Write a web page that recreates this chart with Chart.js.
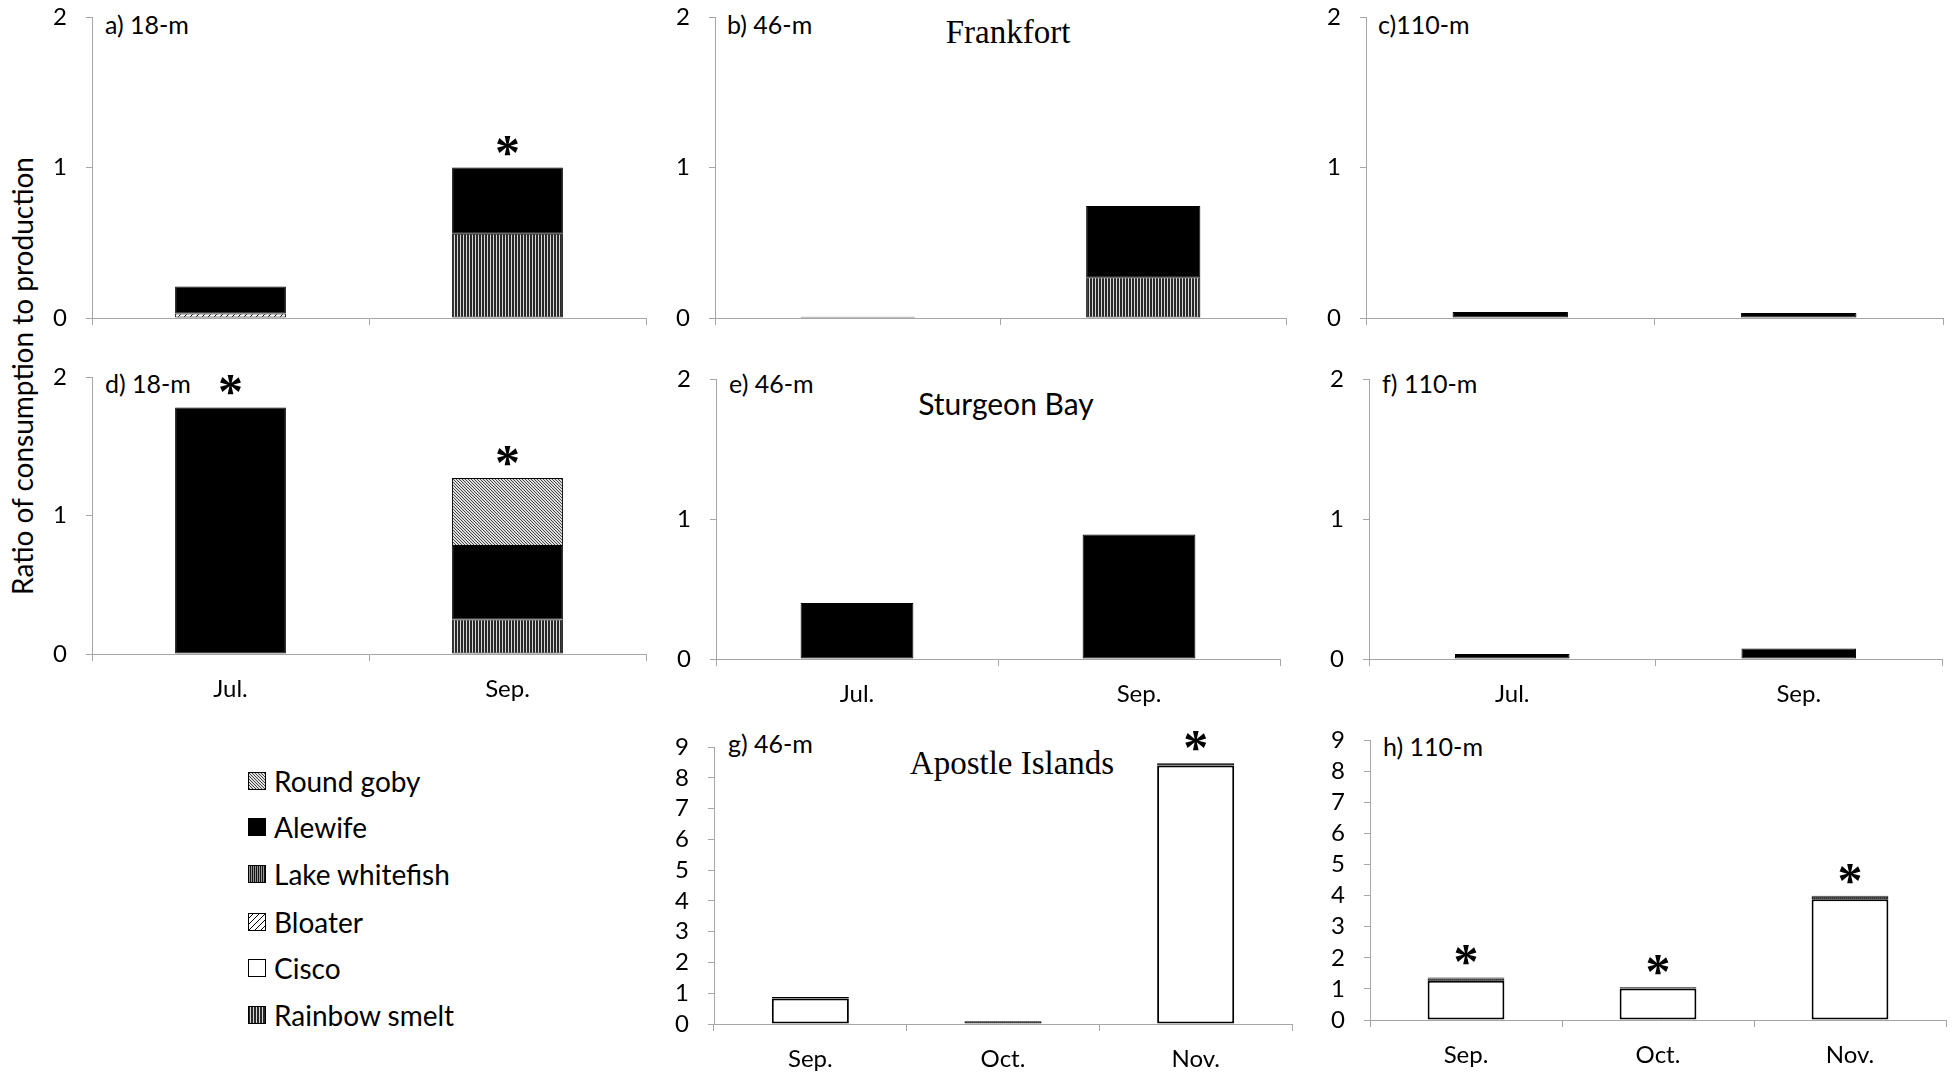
<!DOCTYPE html>
<html>
<head>
<meta charset="utf-8">
<script src="https://cdn.jsdelivr.net/npm/chart.js@4.4.1/dist/chart.umd.min.js"></script>
<style>
  html, body { margin: 0; padding: 0; background: #fff; }
  #wrap { position: relative; width: 1957px; height: 1073px; overflow: hidden; background: #fff; font-family: Lato, "Open Sans", sans-serif; color: #000; }
  #wrap > canvas { position: absolute; }
  .plabel { position: absolute; font-size: 25px; line-height: 1; white-space: nowrap; transform: translateY(-50%); }
  .site { position: absolute; line-height: 1; white-space: nowrap; transform: translate(-50%, -50%); }
  .serif { font-family: "Liberation Serif", "Times New Roman", serif; font-size: 33px; }
  .sans { font-family: Lato, sans-serif; font-size: 30px; }
  #ytitle { position: absolute; left: 22px; top: 376px; font-size: 28px; white-space: nowrap; line-height: 1; transform: translate(-50%, -50%) rotate(-90deg); }
  .leg { position: absolute; left: 248px; height: 28px; display: flex; align-items: center; transform: translateY(-50%); font-size: 28px; white-space: nowrap; }
  .leg canvas { width: 18px; height: 18px; margin-right: 8px; flex: none; }
</style>
</head>
<body>
<div id="wrap">
  <div id="ytitle">Ratio of consumption to production</div>

  <div class="plabel" style="left:105px;top:24px;">a) 18-m</div>
  <div class="plabel" style="left:727px;top:24px;">b) 46-m</div>
  <div class="plabel" style="left:1378px;top:24px;">c)110-m</div>
  <div class="plabel" style="left:105px;top:383px;">d) 18-m</div>
  <div class="plabel" style="left:729px;top:383px;">e) 46-m</div>
  <div class="plabel" style="left:1382px;top:383px;">f) 110-m</div>
  <div class="plabel" style="left:728px;top:743px;">g) 46-m</div>
  <div class="plabel" style="left:1383px;top:746px;">h) 110-m</div>

  <div class="site serif" style="left:1008px;top:32px;">Frankfort</div>
  <div class="site sans" style="left:1006px;top:403px;">Sturgeon Bay</div>
  <div class="site serif" style="left:1012px;top:763px;">Apostle Islands</div>

  <div id="legend"></div>
</div>

<script>
// ---------------- DATA ----------------
const frankfortMonths = ['Jul.', 'Sep.'];
const sturgeonMonths  = ['Jul.', 'Sep.'];
const apostleMonths   = ['Sep.', 'Oct.', 'Nov.'];

// stacking order, bottom -> top
const speciesStack  = ['Rainbow smelt', 'Cisco', 'Bloater', 'Lake whitefish', 'Alewife', 'Round goby'];
// legend order, top -> bottom
const legendSpecies = ['Round goby', 'Alewife', 'Lake whitefish', 'Bloater', 'Cisco', 'Rainbow smelt'];

const ticksSmall = [0, 1, 2];
const ticksLarge = [0, 1, 2, 3, 4, 5, 6, 7, 8, 9];

// a) Frankfort 18-m
const aRainbowSmelt = [0.00, 0.56];
const aBloater      = [0.03, 0.00];
const aAlewife      = [0.18, 0.44];
const aStar         = [0, 1];

// b) Frankfort 46-m
const bRainbowSmelt = [0.00, 0.27];
const bAlewife      = [0.008, 0.475];
const bStar         = [0, 0];

// c) Frankfort 110-m
const cAlewife      = [0.04, 0.033];
const cStar         = [0, 0];

// d) Sturgeon Bay 18-m
const dRainbowSmelt = [0.00, 0.25];
const dAlewife      = [1.78, 0.53];
const dRoundGoby    = [0.00, 0.49];
const dStar         = [1, 1];

// e) Sturgeon Bay 46-m
const eAlewife      = [0.40, 0.89];
const eStar         = [0, 0];

// f) Sturgeon Bay 110-m
const fAlewife      = [0.035, 0.075];
const fStar         = [0, 0];

// g) Apostle Islands 46-m
const gCisco         = [0.83, 0.00, 8.40];
const gLakeWhitefish = [0.00, 0.09, 0.00];
const gAlewife       = [0.05, 0.00, 0.07];
const gStar          = [0, 0, 1];

// h) Apostle Islands 110-m
const hCisco         = [1.26, 1.01, 3.88];
const hLakeWhitefish = [0.07, 0.00, 0.08];
const hAlewife       = [0.04, 0.04, 0.03];
const hStar          = [1, 1, 1];

// ---------------- STYLES ----------------
const tmp = document.createElement('canvas').getContext('2d');
function makeTile(w, h, fn) {
  const c = document.createElement('canvas');
  c.width = w; c.height = h;
  const x = c.getContext('2d');
  const img = x.createImageData(w, h);
  for (let j = 0; j < h; j++) for (let i = 0; i < w; i++) {
    const v = fn(i, j), k = (j * w + i) * 4;
    img.data[k] = img.data[k + 1] = img.data[k + 2] = v; img.data[k + 3] = 255;
  }
  x.putImageData(img, 0, 0);
  return c;
}
const tiles = {
  'Rainbow smelt':  makeTile(3, 1, (i) => i < 2 ? 40 : 215),
  'Bloater':        makeTile(6, 6, (i, j) => ((i + j) % 6 === 5) ? 0 : 255),
  'Lake whitefish': makeTile(2, 1, (i) => i === 0 ? 20 : 150),
  'Round goby':     makeTile(3, 3, (i, j) => (((i - j) % 3 + 3) % 3 === 0) ? 70 : 222)
};
const fills = {
  'Rainbow smelt':  tmp.createPattern(tiles['Rainbow smelt'], 'repeat'),
  'Cisco':          '#ffffff',
  'Bloater':        tmp.createPattern(tiles['Bloater'], 'repeat'),
  'Lake whitefish': tmp.createPattern(tiles['Lake whitefish'], 'repeat'),
  'Alewife':        '#000000',
  'Round goby':     tmp.createPattern(tiles['Round goby'], 'repeat')
};
const borderW = { 'Rainbow smelt': 1, 'Cisco': 2, 'Bloater': 1, 'Lake whitefish': 1, 'Alewife': 1, 'Round goby': 1 };

// ---------------- LAYOUT ----------------
const panels = [
  { labels: frankfortMonths, series: { 'Rainbow smelt': aRainbowSmelt, 'Bloater': aBloater, 'Alewife': aAlewife }, star: aStar, ticks: ticksSmall, showX: false, box: { x: 92,   r: 646,  t: 17,  z: 318 } },
  { labels: frankfortMonths, series: { 'Rainbow smelt': bRainbowSmelt, 'Alewife': bAlewife }, star: bStar, ticks: ticksSmall, showX: false, box: { x: 715,  r: 1286, t: 17,  z: 318 } },
  { labels: frankfortMonths, series: { 'Alewife': cAlewife }, star: cStar, ticks: ticksSmall, showX: false, box: { x: 1366, r: 1943, t: 17,  z: 318 } },
  { labels: sturgeonMonths,  series: { 'Rainbow smelt': dRainbowSmelt, 'Alewife': dAlewife, 'Round goby': dRoundGoby }, star: dStar, ticks: ticksSmall, showX: true, box: { x: 92,   r: 646,  t: 377, z: 654 } },
  { labels: sturgeonMonths,  series: { 'Alewife': eAlewife }, star: eStar, ticks: ticksSmall, showX: true, box: { x: 716,  r: 1280, t: 379, z: 659 } },
  { labels: sturgeonMonths,  series: { 'Alewife': fAlewife }, star: fStar, ticks: ticksSmall, showX: true, box: { x: 1369, r: 1942, t: 379, z: 659 } },
  { labels: apostleMonths,   series: { 'Cisco': gCisco, 'Lake whitefish': gLakeWhitefish, 'Alewife': gAlewife }, star: gStar, ticks: ticksLarge, showX: true, box: { x: 714,  r: 1292, t: 747, z: 1024 } },
  { labels: apostleMonths,   series: { 'Cisco': hCisco, 'Lake whitefish': hLakeWhitefish, 'Alewife': hAlewife }, star: hStar, ticks: ticksLarge, showX: true, box: { x: 1370, r: 1946, t: 740, z: 1020 } }
];

const YW = 60, XH = 50, PT = 40, PR = 8;
const AXIS = '#a6a6a6';
const FONT = 'Lato, "Open Sans", sans-serif';
const TICK_SIZE = 24;

const starPlugin = {
  id: 'stars',
  afterDatasetsDraw(chart, args, opts) {
    const flags = opts.flags || [];
    const ctx = chart.ctx, xs = chart.scales.x, ys = chart.scales.y;
    ctx.save();
    ctx.fillStyle = '#000';
    ctx.font = 'bold 50px "Liberation Serif", serif';
    ctx.textAlign = 'center';
    ctx.textBaseline = 'alphabetic';
    const m = ctx.measureText('*');
    const mid = (m.actualBoundingBoxAscent - m.actualBoundingBoxDescent) / 2;
    flags.forEach((f, i) => {
      if (!f) return;
      let total = 0;
      chart.data.datasets.forEach(ds => { total += ds.data[i] || 0; });
      const px = xs.getPixelForValue(i);
      const py = ys.getPixelForValue(total) - 22;
      ctx.fillText('*', px, py + mid);
    });
    ctx.restore();
  }
};

const wrap = document.getElementById('wrap');
panels.forEach(p => {
  const left = p.box.x - YW, top = p.box.t - PT;
  const w = p.box.r + PR - left, h = p.box.z + XH - top;
  const cv = document.createElement('canvas');
  cv.width = w; cv.height = h;
  cv.style.left = left + 'px'; cv.style.top = top + 'px';
  cv.style.width = w + 'px'; cv.style.height = h + 'px';
  wrap.appendChild(cv);

  const datasets = speciesStack.filter(s => p.series[s]).map(s => ({
    label: s,
    data: p.series[s],
    backgroundColor: fills[s],
    borderColor: '#000',
    borderWidth: borderW[s],
    borderSkipped: false,
    categoryPercentage: 0.8,
    barPercentage: 0.5
  }));
  const yMax = p.ticks[p.ticks.length - 1];

  new Chart(cv, {
    type: 'bar',
    data: { labels: p.labels, datasets },
    options: {
      responsive: false,
      animation: false,
      devicePixelRatio: 1,
      layout: { padding: { top: PT, right: PR, left: 0, bottom: 0 } },
      plugins: { legend: { display: false }, tooltip: { enabled: false }, stars: { flags: p.star } },
      scales: {
        x: {
          stacked: true,
          offset: true,
          grid: { display: true, offset: true, drawOnChartArea: false, drawTicks: true, tickLength: 7, color: AXIS, lineWidth: 1 },
          border: { display: true, color: AXIS, width: 1 },
          ticks: { display: p.showX, color: '#000', font: { family: FONT, size: TICK_SIZE }, padding: 14, maxRotation: 0, autoSkip: false },
          afterFit(s) { s.height = XH; }
        },
        y: {
          stacked: true,
          min: 0,
          max: yMax,
          afterBuildTicks(s) { s.ticks = p.ticks.map(v => ({ value: v })); },
          grid: { display: true, drawOnChartArea: false, drawTicks: true, tickLength: 6, color: AXIS, lineWidth: 1 },
          border: { display: true, color: AXIS, width: 1 },
          ticks: { color: '#000', font: { family: FONT, size: TICK_SIZE }, padding: 19, autoSkip: false },
          afterFit(s) { s.width = YW; }
        }
      }
    },
    plugins: [starPlugin]
  });
});

// legend
const legendRowsY = [781, 827, 874, 922, 968, 1015];
const leg = document.getElementById('legend');
legendSpecies.forEach((s, i) => {
  const d = document.createElement('div');
  d.className = 'leg';
  d.style.top = legendRowsY[i] + 'px';
  const sw = document.createElement('canvas');
  sw.width = 18; sw.height = 18;
  const c = sw.getContext('2d');
  c.fillStyle = tiles[s] ? c.createPattern(tiles[s], 'repeat') : fills[s];
  c.fillRect(0, 0, 18, 18);
  c.strokeStyle = '#000'; c.lineWidth = 1;
  c.strokeRect(0.5, 0.5, 17, 17);
  d.appendChild(sw);
  d.appendChild(document.createTextNode(s));
  leg.appendChild(d);
});
</script>
</body>
</html>
